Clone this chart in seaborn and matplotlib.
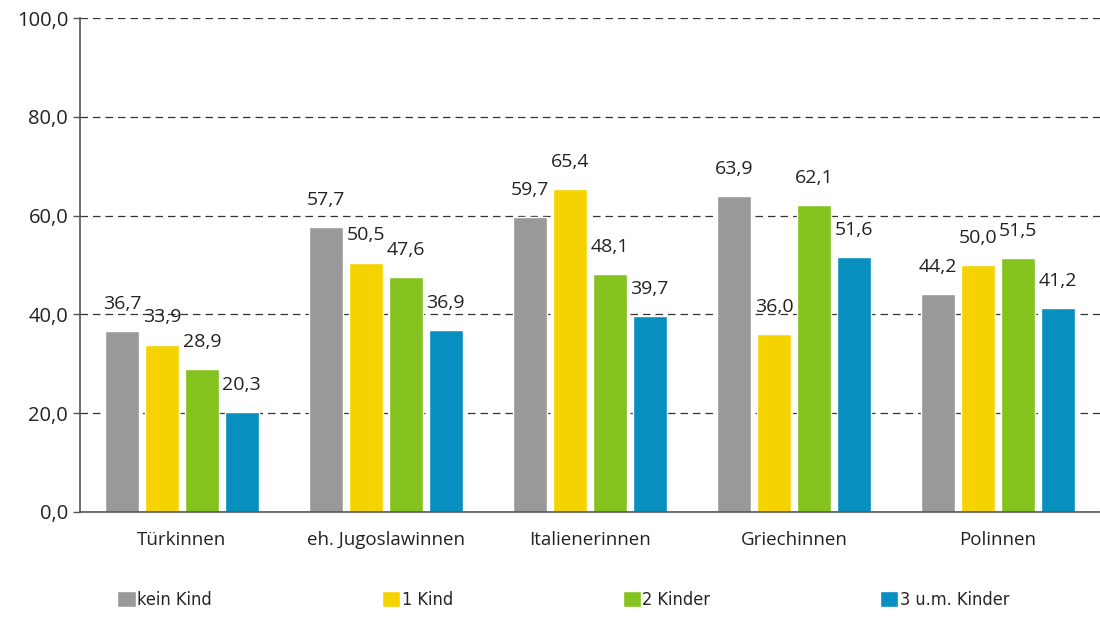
import pandas as pd
import matplotlib.pyplot as plt
import seaborn as sns

# === Data ===
groups = ['Türkinnen', 'eh. Jugoslawinnen', 'Italienerinnen', 'Griechinnen', 'Polinnen']
series = ['kein Kind', '1 Kind', '2 Kinder', '3 u.m. Kinder']
kein_kind = [36.7, 57.7, 59.7, 63.9, 44.2]
ein_kind = [33.9, 50.5, 65.4, 36.0, 50.0]
zwei_kinder = [28.9, 47.6, 48.1, 62.1, 51.5]
drei_kinder = [20.3, 36.9, 39.7, 51.6, 41.2]
y_ticks = [0, 20, 40, 60, 80, 100]
colors = ['#999999', '#F5D300', '#84C21E', '#068FBF']

rows = []
for name, vals in zip(series, [kein_kind, ein_kind, zwei_kinder, drei_kinder]):
    for g, v in zip(groups, vals):
        rows.append({'group': g, 'series': name, 'value': v})
df = pd.DataFrame(rows)

sns.set_style('white')
plt.rcParams['font.family'] = ['Open Sans', 'DejaVu Sans']

fig = plt.figure(figsize=(11, 6.17), dpi=100)
ax = fig.add_axes([0.0727, 0.1702, 0.9273, 0.8006])

sns.barplot(data=df, x='group', y='value', hue='series', palette=colors,
            width=0.78, gap=0.15, saturation=1, ax=ax, legend=True)

# value labels with German decimal comma
for cont in ax.containers:
    ax.bar_label(cont, labels=[f'{b.get_height():.1f}'.replace('.', ',') for b in cont],
                 padding=13, fontsize=14, color='#222222')

ax.set_ylim(0, 100)
ax.set_xlim(-0.5, len(groups) - 0.5)
ax.set_yticks(y_ticks)
ax.set_yticklabels([f'{t:.1f}'.replace('.', ',') for t in y_ticks], fontsize=14.5, color='#222222')
ax.yaxis.grid(True, linestyle=(0, (6, 4)), color='#333333', linewidth=0.9)
ax.set_axisbelow(True)
ax.set_xlabel('')
ax.set_ylabel('')

# category labels centred, tick marks on group boundaries
ax.set_xticks(range(len(groups)))
ax.set_xticklabels(groups, fontsize=13.5, color='#222222')
ax.tick_params(axis='x', length=0, pad=14)
ax.set_xticks([i - 0.5 for i in range(len(groups) + 1)], minor=True)
ax.tick_params(axis='x', which='minor', length=6, width=1, color='#555555', direction='out')
ax.tick_params(axis='y', length=5, width=1, color='#555555', direction='out', left=True)

for side in ['top', 'right']:
    ax.spines[side].set_visible(False)
for side in ['left', 'bottom']:
    ax.spines[side].set_color('#555555')
    ax.spines[side].set_linewidth(1.2)

handles, labels = ax.get_legend_handles_labels()
ax.get_legend().remove()
fig.legend(handles, labels, loc='center left', bbox_to_anchor=(0.092, 0.028), ncol=4,
           frameon=False, handlelength=1.0, handleheight=1.0, handletextpad=0.1,
           columnspacing=9.4, prop={'family': 'DejaVu Sans', 'stretch': 'condensed', 'size': 13})

plt.savefig('out.png', dpi=100)
